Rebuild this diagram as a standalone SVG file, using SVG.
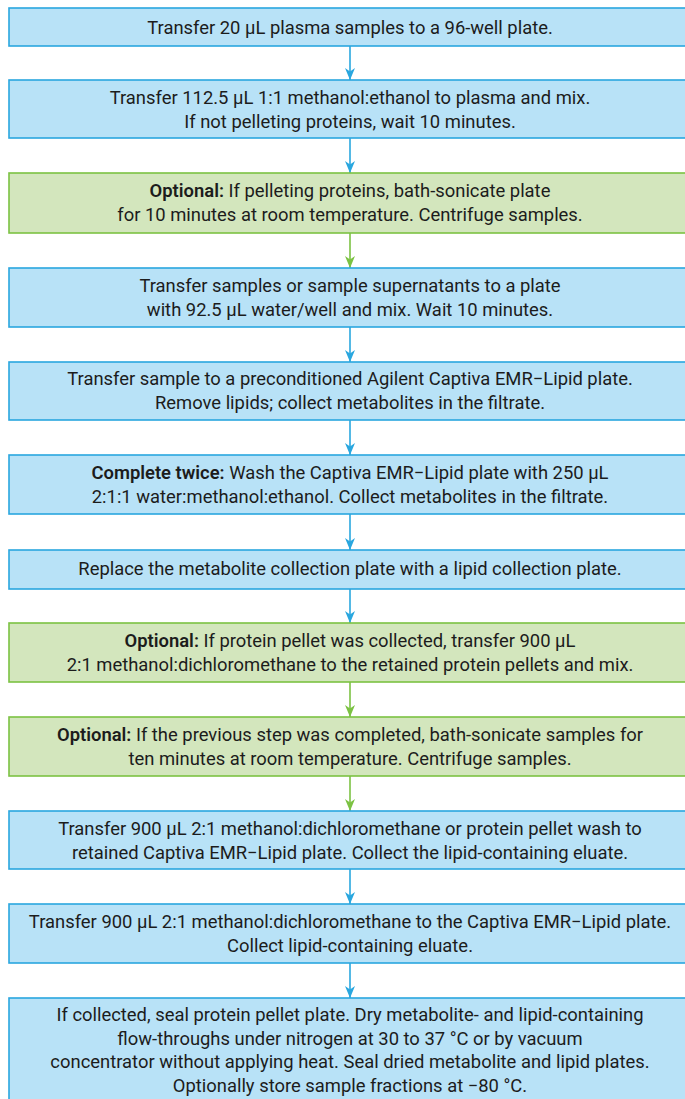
<svg xmlns="http://www.w3.org/2000/svg" width="685" height="1099" viewBox="0 0 685 1099">
<defs>
<style>
.b{fill:#b8e2f7;stroke:#2aa7df;stroke-width:1.6}
.g{fill:#d3e6bd;stroke:#7cc243;stroke-width:1.6}
text{font-family:Roboto,"Liberation Sans",sans-serif;font-size:18.4px;fill:#1c1c1c;text-anchor:middle}
.bd{font-weight:600}
.cb{stroke:#2aa7df;stroke-width:1.6;fill:none}
.cg{stroke:#7cc243;stroke-width:1.6;fill:none}
</style>
<marker id="ab" markerUnits="userSpaceOnUse" markerWidth="14" markerHeight="12" viewBox="-13 -6 14 12" refX="0" refY="0" orient="auto">
<path d="M-12,-5 L-8.5,0 L-12,5 L0,0 Z" fill="#2aa7df"/>
</marker>
<marker id="ag" markerUnits="userSpaceOnUse" markerWidth="14" markerHeight="12" viewBox="-13 -6 14 12" refX="0" refY="0" orient="auto">
<path d="M-12,-5 L-8.5,0 L-12,5 L0,0 Z" fill="#7cc243"/>
</marker>
</defs>
<rect width="685" height="1099" fill="#ffffff"/>
<g id="connectors">
<path class="cb" d="M350,46 V80" marker-end="url(#ab)"/>
<path class="cb" d="M350,138 V173" marker-end="url(#ab)"/>
<path class="cg" d="M350,233 V268" marker-end="url(#ag)"/>
<path class="cb" d="M350,327 V362" marker-end="url(#ab)"/>
<path class="cb" d="M350,420 V455" marker-end="url(#ab)"/>
<path class="cb" d="M350,514 V550" marker-end="url(#ab)"/>
<path class="cb" d="M350,589 V623" marker-end="url(#ab)"/>
<path class="cg" d="M350,682 V717" marker-end="url(#ag)"/>
<path class="cg" d="M350,776 V811" marker-end="url(#ag)"/>
<path class="cb" d="M350,869 V904" marker-end="url(#ab)"/>
<path class="cb" d="M350,963 V998" marker-end="url(#ab)"/>
</g>
<g id="n1"><rect class="b" x="9" y="8" width="684" height="38"/>
<text x="350" y="34">Transfer 20 µL plasma samples to a 96-well plate.</text></g>
<g id="n2"><rect class="b" x="9" y="80" width="684" height="58"/>
<text x="350" y="104">Transfer 112.5 µL 1:1 methanol:ethanol to plasma and mix.</text>
<text x="350" y="128">If not pelleting proteins, wait 10 minutes.</text></g>
<g id="n3"><rect class="g" x="9" y="173" width="684" height="60"/>
<text x="350" y="197"><tspan class="bd">Optional:</tspan> If pelleting proteins, bath-sonicate plate</text>
<text x="350" y="221">for 10 minutes at room temperature. Centrifuge samples.</text></g>
<g id="n4"><rect class="b" x="9" y="268" width="684" height="59"/>
<text x="350" y="292">Transfer samples or sample supernatants to a plate</text>
<text x="350" y="316">with 92.5 µL water/well and mix. Wait 10 minutes.</text></g>
<g id="n5"><rect class="b" x="9" y="362" width="684" height="58"/>
<text x="350" y="385">Transfer sample to a preconditioned Agilent Captiva EMR−Lipid plate.</text>
<text x="350" y="409">Remove lipids; collect metabolites in the filtrate.</text></g>
<g id="n6"><rect class="b" x="9" y="455" width="684" height="59"/>
<text x="350" y="479"><tspan class="bd">Complete twice:</tspan> Wash the Captiva EMR−Lipid plate with 250 µL</text>
<text x="350" y="503">2:1:1 water:methanol:ethanol. Collect metabolites in the filtrate.</text></g>
<g id="n7"><rect class="b" x="9" y="550" width="684" height="39"/>
<text x="350" y="575">Replace the metabolite collection plate with a lipid collection plate.</text></g>
<g id="n8"><rect class="g" x="9" y="623" width="684" height="59"/>
<text x="350" y="647"><tspan class="bd">Optional:</tspan> If protein pellet was collected, transfer 900 µL</text>
<text x="350" y="671">2:1 methanol:dichloromethane to the retained protein pellets and mix.</text></g>
<g id="n9"><rect class="g" x="9" y="717" width="684" height="59"/>
<text x="350" y="741"><tspan class="bd">Optional:</tspan> If the previous step was completed, bath-sonicate samples for</text>
<text x="350" y="765">ten minutes at room temperature. Centrifuge samples.</text></g>
<g id="n10"><rect class="b" x="9" y="811" width="684" height="58"/>
<text x="350" y="835">Transfer 900 µL 2:1 methanol:dichloromethane or protein pellet wash to</text>
<text x="350" y="859">retained Captiva EMR−Lipid plate. Collect the lipid-containing eluate.</text></g>
<g id="n11"><rect class="b" x="9" y="904" width="684" height="59"/>
<text x="350" y="928">Transfer 900 µL 2:1 methanol:dichloromethane to the Captiva EMR−Lipid plate.</text>
<text x="350" y="952">Collect lipid-containing eluate.</text></g>
<g id="n12"><rect class="b" x="9" y="998" width="684" height="110"/>
<text x="350" y="1021">If collected, seal protein pellet plate. Dry metabolite- and lipid-containing</text>
<text x="350" y="1045">flow-throughs under nitrogen at 30 to 37 °C or by vacuum</text>
<text x="350" y="1068">concentrator without applying heat. Seal dried metabolite and lipid plates.</text>
<text x="350" y="1092">Optionally store sample fractions at −80 °C.</text></g>
</svg>
